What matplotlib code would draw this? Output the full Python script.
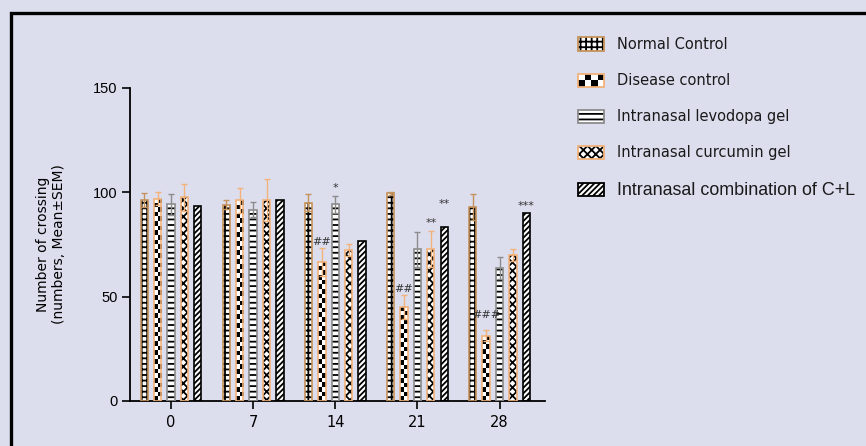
import numpy as np
import matplotlib
matplotlib.use('Agg')
import matplotlib.pyplot as plt
from matplotlib.patches import Rectangle, Patch
from matplotlib.legend_handler import HandlerPatch

# Number of crossings per group on each test day (mean and SEM)
days = ['0', '7', '14', '21', '28']
groups = ['Normal Control', 'Disease control', 'Intranasal levodopa gel',
          'Intranasal curcumin gel', 'Intranasal combination of C+L']

normal_mean = [96.3, 94.1, 95.0, 99.5, 92.8]
normal_sem = [3.5, 2.2, 4.0, 0.6, 6.2]
disease_mean = [97.0, 96.3, 66.7, 45.2, 31.3]
disease_sem = [3.0, 6.0, 6.6, 5.7, 2.7]
levodopa_mean = [94.2, 91.7, 94.2, 72.7, 63.7]
levodopa_sem = [5.0, 3.7, 4.0, 8.3, 5.4]
curcumin_mean = [97.6, 96.5, 72.2, 73.0, 70.0]
curcumin_sem = [6.4, 10.0, 2.9, 8.6, 3.0]
combo_mean = [93.4, 96.5, 76.7, 83.5, 90.1]
combo_sem = [0, 0, 0, 0, 0]

# (day index, group index, mark, extra lift above the bar)
sig_marks = [(2, 1, '##', 0.5), (2, 2, '*', 1.5), (3, 1, '##', 0.5), (3, 3, '**', 1.5),
             (3, 4, '**', 8.5), (4, 1, '###', 5), (4, 4, '***', 1)]

BG = '#dcdeee'
TAN = '#c4925a'
PEACH = '#f2b27a'
GREY = '#8c8c8c'

styles = [
    dict(hatch='+++', edge=TAN, checker=False),
    dict(hatch=None, edge=PEACH, checker=True),
    dict(hatch='---', edge=GREY, checker=False),
    dict(hatch='xxxx', edge=PEACH, checker=False),
    dict(hatch='//////', edge='black', checker=False),
]

plt.rcParams['hatch.linewidth'] = 1.3
plt.rcParams['font.family'] = 'DejaVu Sans'


def checker_fill(ax, rect, cell_h=2.2):
    """Fill a bar with a two-column black/white checkerboard."""
    x, w, h = rect.get_x(), rect.get_width(), rect.get_height()
    rows = max(1, int(round(h / cell_h)))
    board = np.add.outer(np.arange(rows), np.arange(2)) % 2
    im = ax.imshow(board, cmap='gray', extent=(x, x + w, 0, h), origin='lower',
                   aspect='auto', interpolation='nearest', zorder=2)
    im.set_clip_path(rect)


class SwatchHandler(HandlerPatch):
    def __init__(self, style):
        super().__init__()
        self.style = style

    def create_artists(self, legend, orig_handle, xdescent, ydescent,
                       width, height, fontsize, trans):
        x0, y0 = -xdescent, -ydescent
        arts = [Rectangle((x0, y0), width, height, facecolor='white',
                          edgecolor='black', hatch=self.style['hatch'],
                          lw=0, transform=trans)]
        if self.style['checker']:
            nx, ny = 4, 2
            cw, ch = width / nx, height / ny
            for i in range(nx):
                for j in range(ny):
                    if (i + j) % 2 == 0:
                        arts.append(Rectangle((x0 + i * cw, y0 + j * ch), cw, ch,
                                              facecolor='black', lw=0, transform=trans))
        arts.append(Rectangle((x0, y0), width, height, facecolor='none',
                              edgecolor=self.style['edge'], lw=1.3, transform=trans))
        return arts


fig = plt.figure(figsize=(8.66, 4.46), dpi=100, facecolor=BG)
ax = fig.add_axes([0.150, 0.1009, 0.479, 0.7018])
ax.set_facecolor(BG)

means = [normal_mean, disease_mean, levodopa_mean, curcumin_mean, combo_mean]
sems = [normal_sem, disease_sem, levodopa_sem, curcumin_sem, combo_sem]

x = np.arange(len(days))
step = 0.163
width = 0.089
bar_tops = {}

for gi, (m, s, st) in enumerate(zip(means, sems, styles)):
    pos = x + (gi - 2) * step
    if st['checker']:
        bars = ax.bar(pos, m, width, facecolor='white', edgecolor='none', lw=0, zorder=1)
        for rect in bars:
            checker_fill(ax, rect)
    else:
        ax.bar(pos, m, width, facecolor='white', edgecolor='black',
               hatch=st['hatch'], lw=0, zorder=2)
    ax.bar(pos, m, width, facecolor='none', edgecolor=st['edge'], lw=1.2, zorder=3)
    if any(s):
        ax.errorbar(pos, m, yerr=s, fmt='none', ecolor=st['edge'], elinewidth=1.0,
                    capsize=2.2, capthick=1.0, zorder=4)
    for di in range(len(days)):
        bar_tops[(di, gi)] = (pos[di], m[di] + s[di])

for di, gi, mark, lift in sig_marks:
    bx, top = bar_tops[(di, gi)]
    ax.text(bx, top + lift, mark, ha='center', va='bottom', fontsize=8,
            color='#333333')

ax.set_xlim(-0.5, 4.55)
ax.set_ylim(0, 150)
ax.set_xticks(x)
ax.set_xticklabels(days, fontsize=10.5)
ax.set_yticks([0, 50, 100, 150])
ax.set_yticklabels(['0', '50', '100', '150'], fontsize=10.5, family='Liberation Sans')
ax.tick_params(axis='both', length=6, width=1.2, color='black')
ax.tick_params(axis='x', pad=4)
ax.tick_params(axis='y', pad=3)
for side in ['top', 'right']:
    ax.spines[side].set_visible(False)
for side in ['left', 'bottom']:
    ax.spines[side].set_linewidth(1.3)

ax.set_ylabel('Number of crossing\n(numbers, Mean\u00b1SEM)', fontsize=10, labelpad=19)

handles = [Patch(label=g) for g in groups]
handler_map = {h: SwatchHandler(st) for h, st in zip(handles, styles)}
leg = fig.legend(handles=handles, loc='upper left', bbox_to_anchor=(578 / 866, 1 - 37 / 446),
                 frameon=False, handlelength=1.8, handleheight=1.0, handletextpad=0.9,
                 labelspacing=1.45, borderpad=0, borderaxespad=0, fontsize=10.5,
                 handler_map=handler_map)
for t in leg.get_texts():
    t.set_color('#1a1a1a')
leg.get_texts()[-1].set_fontfamily('Liberation Sans')
leg.get_texts()[-1].set_fontsize(12.9)

# outer frame around the panel
fig.add_artist(Rectangle((11 / 866, -0.05), 1.2, 1 - 12.5 / 446 + 0.05,
                         transform=fig.transFigure, fill=False, lw=2.4,
                         edgecolor='black', clip_on=False))

fig.savefig('out.png', dpi=100, facecolor=BG)
